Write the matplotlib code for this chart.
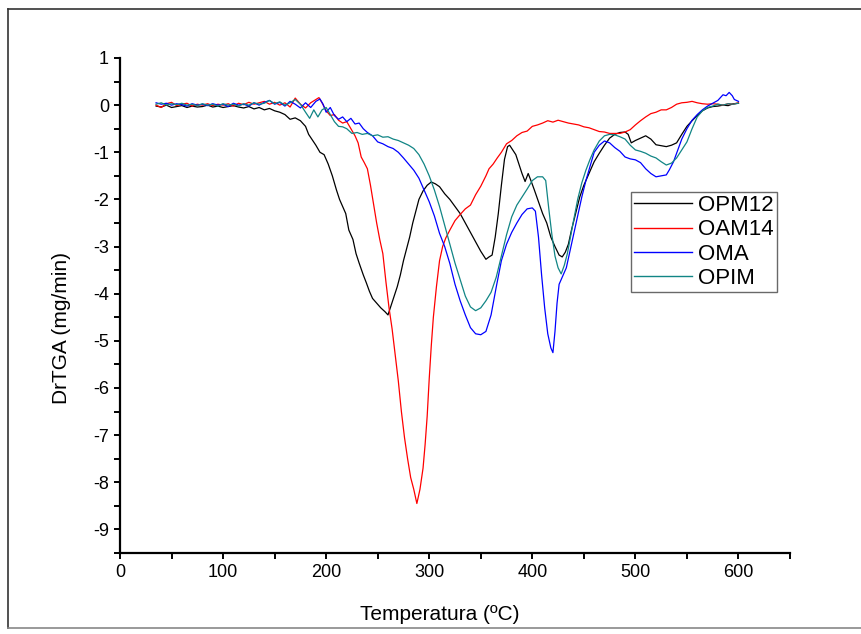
import matplotlib

matplotlib.use("Agg")

import matplotlib.pyplot as plt
from matplotlib.lines import Line2D
from matplotlib.ticker import MultipleLocator

plt.rcParams["font.family"] = ["Liberation Sans", "DejaVu Sans"]
plt.rcParams["axes.unicode_minus"] = False

# OPM12 (black)
opm12_t = [35, 40, 45, 50, 55, 60, 65, 70, 75, 80, 85, 90, 95, 100, 105, 110, 115, 120,
           125, 130, 135, 140, 145, 150, 155, 160, 165, 170, 175, 180, 183, 186, 190, 194,
           198, 202, 206, 210, 213, 216, 219, 222, 226, 229, 232, 236, 239, 242, 245, 249,
           253, 257, 260, 263, 266, 269, 272, 275, 278, 281, 284, 287, 290, 294, 298, 302,
           306, 310, 315, 320, 325, 330, 335, 340, 345, 350, 355, 358, 361, 364, 367, 370,
           373, 376, 378, 381, 384, 387, 390, 393, 396, 399, 402, 406, 410, 414, 418, 422,
           426, 429, 432, 435, 438, 442, 446, 450, 455, 460, 465, 470, 475, 480, 485, 490,
           493, 496, 500, 505, 510, 515, 520, 525, 530, 535, 540, 545, 550, 555, 560, 565,
           570, 575, 580, 585, 590, 595, 600]
opm12_v = [-0.02, -0.04, 0.0, -0.05, -0.03, -0.01, -0.05, -0.02, -0.04, -0.03, 0.0, -0.04,
           -0.02, -0.05, -0.03, -0.01, -0.04, -0.06, -0.03, -0.08, -0.05, -0.1, -0.07, -0.12,
           -0.15, -0.2, -0.3, -0.27, -0.33, -0.45, -0.62, -0.72, -0.85, -1.0, -1.05, -1.25,
           -1.5, -1.8, -2.0, -2.15, -2.3, -2.65, -2.85, -3.15, -3.35, -3.6, -3.77, -3.95,
           -4.1, -4.2, -4.3, -4.38, -4.45, -4.25, -4.05, -3.85, -3.6, -3.3, -3.05, -2.8,
           -2.5, -2.25, -2.0, -1.82, -1.7, -1.63, -1.67, -1.73, -1.88, -2.0, -2.15, -2.3,
           -2.5, -2.7, -2.9, -3.1, -3.27, -3.22, -3.18, -2.8, -2.3, -1.7, -1.15, -0.88,
           -0.85, -0.95, -1.05, -1.25, -1.45, -1.62, -1.45, -1.62, -1.8, -2.05, -2.3, -2.5,
           -2.8, -3.0, -3.18, -3.22, -3.12, -2.95, -2.65, -2.3, -1.95, -1.7, -1.45, -1.2,
           -1.02, -0.85, -0.7, -0.62, -0.58, -0.57, -0.62, -0.8, -0.75, -0.7, -0.65, -0.72,
           -0.84, -0.86, -0.88, -0.85, -0.8, -0.62, -0.45, -0.33, -0.22, -0.12, -0.06, -0.03,
           -0.02, 0.0, -0.01, 0.03, 0.04]

# OAM14 (red)
oam14_t = [35, 40, 45, 50, 55, 60, 65, 70, 75, 80, 85, 90, 95, 100, 105, 110, 115, 120,
           125, 130, 135, 140, 145, 150, 155, 160, 165, 170, 175, 180, 185, 190, 193, 196,
           200, 204, 208, 212, 216, 220, 224, 228, 231, 234, 237, 240, 243, 246, 249, 252,
           255, 258, 261, 264, 267, 270, 273, 276, 279, 282, 285, 288, 291, 294, 296, 298,
           300, 302, 304, 307, 310, 313, 316, 320, 325, 330, 335, 340, 345, 350, 355, 358,
           362, 366, 370, 375, 380, 385, 390, 395, 400, 405, 410, 415, 420, 425, 430, 435,
           440, 445, 450, 455, 460, 465, 470, 475, 480, 485, 490, 495, 500, 505, 510, 515,
           520, 525, 530, 535, 540, 545, 550, 555, 560, 565, 570, 575, 580, 585, 590, 595, 600]
oam14_v = [0.0, -0.05, 0.03, 0.06, -0.01, 0.02, 0.04, -0.02, 0.02, 0.0, 0.03, -0.01, 0.02,
           0.0, 0.03, -0.02, 0.04, 0.01, 0.06, 0.02, 0.05, 0.08, 0.02, 0.06, 0.0, 0.05,
           -0.04, 0.15, 0.02, -0.06, 0.05, 0.12, 0.16, 0.05, -0.12, -0.22, -0.2, -0.32,
           -0.38, -0.35, -0.5, -0.65, -0.8, -1.1, -1.22, -1.35, -1.7, -2.1, -2.5, -2.85,
           -3.15, -3.75, -4.3, -4.75, -5.3, -5.85, -6.5, -7.05, -7.5, -7.9, -8.15, -8.45,
           -8.15, -7.7, -7.2, -6.6, -5.8, -5.1, -4.5, -3.85, -3.3, -3.0, -2.82, -2.65, -2.45,
           -2.32, -2.2, -2.12, -1.9, -1.72, -1.5, -1.35, -1.25, -1.12, -1.0, -0.82, -0.75,
           -0.65, -0.58, -0.55, -0.45, -0.42, -0.38, -0.33, -0.36, -0.32, -0.35, -0.38, -0.4,
           -0.42, -0.46, -0.48, -0.52, -0.56, -0.57, -0.6, -0.6, -0.6, -0.57, -0.52, -0.42,
           -0.33, -0.25, -0.18, -0.15, -0.1, -0.1, -0.05, 0.02, 0.05, 0.06, 0.08, 0.05, 0.03,
           0.02, 0.03, 0.02, 0.0, 0.03, 0.02, 0.05]

# OMA (blue)
oma_t = [35, 40, 45, 50, 55, 60, 65, 70, 75, 80, 85, 90, 95, 100, 105, 110, 115, 120,
         125, 130, 135, 140, 145, 150, 155, 160, 165, 170, 175, 180, 185, 190, 194, 197,
         200, 204, 208, 212, 216, 220, 224, 228, 232, 236, 240, 245, 250, 255, 260, 265,
         270, 275, 280, 285, 290, 295, 300, 305, 310, 315, 320, 325, 330, 335, 340, 345,
         350, 355, 360, 365, 370, 375, 380, 385, 390, 395, 400, 403, 406, 409, 412, 415,
         418, 420, 422, 424, 426, 430, 433, 436, 440, 444, 448, 452, 456, 460, 465, 470,
         475, 480, 485, 490, 495, 500, 505, 510, 515, 520, 525, 530, 533, 537, 540, 545,
         550, 555, 560, 565, 570, 575, 580, 585, 588, 591, 594, 596, 600]
oma_v = [0.05, 0.02, 0.04, 0.0, 0.03, 0.01, -0.02, 0.03, 0.0, 0.02, -0.01, 0.03, 0.0,
         0.02, -0.03, 0.04, 0.0, 0.02, -0.02, 0.05, 0.0, 0.06, 0.1, 0.02, 0.06, -0.02,
         0.08, 0.02, -0.06, 0.05, -0.05, 0.08, 0.13, 0.02, -0.15, -0.05, -0.22, -0.3,
         -0.25, -0.35, -0.28, -0.4, -0.38, -0.5, -0.58, -0.65, -0.78, -0.82, -0.88, -0.92,
         -1.0, -1.12, -1.25, -1.38, -1.55, -1.8, -2.05, -2.35, -2.72, -3.0, -3.36, -3.8,
         -4.15, -4.45, -4.72, -4.85, -4.87, -4.8, -4.45, -3.86, -3.3, -2.95, -2.7, -2.5,
         -2.32, -2.2, -2.18, -2.25, -2.8, -3.6, -4.3, -4.85, -5.15, -5.25, -4.8, -4.2,
         -3.8, -3.6, -3.45, -3.15, -2.75, -2.35, -1.95, -1.6, -1.3, -1.0, -0.85, -0.76,
         -0.8, -0.9, -0.98, -1.1, -1.14, -1.16, -1.22, -1.35, -1.45, -1.52, -1.5, -1.48,
         -1.37, -1.2, -1.02, -0.72, -0.5, -0.32, -0.2, -0.1, -0.02, 0.04, 0.1, 0.22, 0.2,
         0.27, 0.2, 0.12, 0.08]

# OPIM (teal)
opim_t = [35, 40, 45, 50, 55, 60, 65, 70, 75, 80, 85, 90, 95, 100, 105, 110, 115, 120,
          125, 130, 135, 140, 145, 150, 155, 160, 165, 170, 175, 180, 184, 188, 192, 196,
          200, 204, 208, 212, 216, 220, 225, 230, 235, 240, 245, 250, 255, 260, 265, 270,
          275, 280, 285, 290, 295, 300, 305, 310, 315, 320, 325, 330, 335, 340, 345, 350,
          355, 360, 365, 370, 375, 380, 385, 390, 395, 400, 405, 410, 413, 416, 419, 422,
          425, 428, 431, 434, 437, 440, 444, 448, 452, 456, 460, 465, 470, 475, 480, 485,
          490, 495, 500, 505, 510, 515, 520, 525, 530, 535, 540, 545, 550, 555, 560, 565,
          570, 575, 580, 585, 590, 595, 600]
opim_v = [0.02, 0.05, 0.0, 0.03, 0.01, 0.04, 0.0, 0.02, -0.01, 0.03, 0.0, 0.02, -0.02,
          0.03, 0.0, 0.02, -0.02, 0.03, 0.0, 0.05, 0.02, 0.04, 0.1, 0.03, 0.07, 0.0, 0.05,
          0.12, 0.02, -0.15, -0.28, -0.1, -0.25, -0.1, -0.05, -0.2, -0.35, -0.45, -0.46,
          -0.5, -0.6, -0.58, -0.62, -0.6, -0.65, -0.63, -0.68, -0.67, -0.72, -0.75, -0.8,
          -0.85, -0.92, -1.05, -1.25, -1.5, -1.8, -2.15, -2.55, -2.95, -3.35, -3.7, -4.05,
          -4.28, -4.36, -4.3, -4.15, -3.97, -3.65, -3.2, -2.75, -2.37, -2.12, -1.95, -1.78,
          -1.6, -1.52, -1.52, -1.6, -2.2, -2.75, -3.2, -3.45, -3.58, -3.4, -3.15, -2.8,
          -2.45, -2.0, -1.65, -1.38, -1.15, -0.95, -0.76, -0.65, -0.62, -0.63, -0.67, -0.72,
          -0.85, -0.95, -0.98, -1.02, -1.08, -1.12, -1.2, -1.27, -1.23, -1.12, -0.95, -0.78,
          -0.5, -0.25, -0.12, -0.05, -0.02, 0.02, 0.0, 0.03, 0.02, 0.04]

series = [
    ("OPM12", opm12_t, opm12_v, "black"),
    ("OAM14", oam14_t, oam14_v, "red"),
    ("OMA", oma_t, oma_v, "blue"),
    ("OPIM", opim_t, opim_v, "#118585"),
]

fig = plt.figure(figsize=(8.61, 6.34), dpi=100)
ax = fig.add_axes([120 / 861, 81 / 634, 670 / 861, 495 / 634])

for name, t, v, color in series:
    ax.plot(t, v, color=color, lw=0.9, label=name)

ax.set_xlim(0, 650)
ax.set_ylim(-9.5, 1)
ax.xaxis.set_major_locator(MultipleLocator(100))
ax.xaxis.set_minor_locator(MultipleLocator(50))
ax.yaxis.set_major_locator(MultipleLocator(1))
ax.yaxis.set_minor_locator(MultipleLocator(0.5))

for side in ["top", "right"]:
    ax.spines[side].set_visible(False)
for side in ["left", "bottom"]:
    ax.spines[side].set_linewidth(1.6)

ax.tick_params(which="major", direction="out", length=4.5, width=1.4, labelsize=13)
ax.tick_params(which="minor", direction="out", length=4, width=1.4)

ax.set_xlabel("Temperatura (ºC)", fontsize=15)
ax.xaxis.set_label_coords((440 - 120) / 670, -0.105)
ax.set_ylabel("DrTGA (mg/min)", fontsize=15)
ax.yaxis.set_label_coords(-0.073, 0.455)

leg = ax.legend(loc="upper left", bbox_to_anchor=(0.762, 0.73), fontsize=16,
                frameon=True, fancybox=False, handlelength=2.6, handletextpad=0.3,
                borderpad=0.15, labelspacing=0.15, borderaxespad=0)
leg.get_frame().set_edgecolor("#444444")
leg.get_frame().set_linewidth(1.0)
for line in leg.get_lines():
    line.set_linewidth(1.0)

# thin frame around the whole picture
fig.add_artist(Line2D([8 / 861, 8 / 861], [1 - 9 / 634, 1 - 628 / 634],
                      transform=fig.transFigure, color="#333333", lw=1.2))
fig.add_artist(Line2D([8 / 861, 1.0], [1 - 9 / 634, 1 - 9 / 634],
                      transform=fig.transFigure, color="#333333", lw=1.2))
fig.add_artist(Line2D([8 / 861, 1.0], [1 - 628 / 634, 1 - 628 / 634],
                      transform=fig.transFigure, color="#888888", lw=1.2))

fig.savefig("out.png", dpi=100)
